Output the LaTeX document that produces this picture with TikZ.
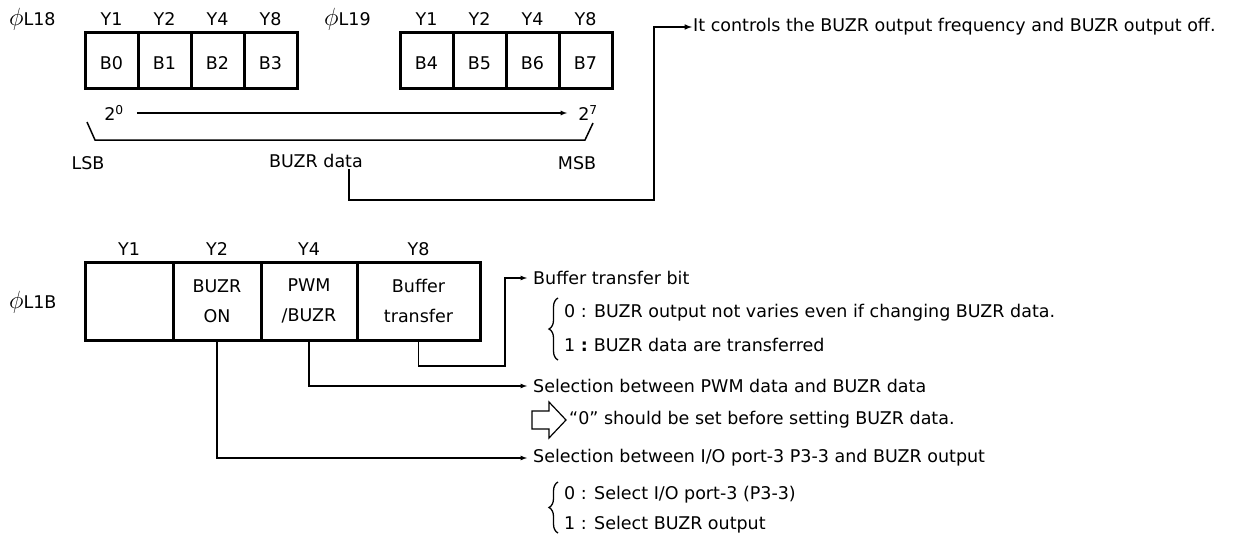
\documentclass[tikz,border=0pt]{standalone}
\usepackage{fontspec}
\setmainfont{DejaVu Sans}
\usetikzlibrary{arrows,positioning,decorations.pathreplacing}

\newcommand{\regphi}{{\fontsize{23}{23}\selectfont$\phi$}}

\begin{document}
\begin{tikzpicture}[x=1pt,y=-1pt,
    every node/.style={font=\fontsize{17.5}{21}\selectfont, inner sep=1pt},
    bitcell/.style={draw, line width=3pt, outer sep=0pt, minimum width=53pt, minimum height=55pt, text height=18pt, text depth=0pt},
    ctlcell/.style={draw, line width=3pt, outer sep=0pt, minimum height=78pt, align=center, font=\fontsize{17.5}{30}\selectfont},
    note/.style={anchor=west},
    link/.style={line width=1.2pt, -latex, shorten >=5pt},
    brace/.style={decorate, decoration={brace, amplitude=9pt}, line width=1.3pt}]
    \useasboundingbox (0,0) rectangle (1233,535);

    % Register names
    \node[note] (l18) at (8,19) {\regphi L18};
    \node[note] (l19) at (323,19) {\regphi L19};
    \node[note] (l1b) at (8,302) {\regphi L1B};

    % BUZR data registers
    \node[bitcell] (b0) at (111.5,60.5) {B0};
    \node[bitcell, right=0pt of b0] (b1) {B1};
    \node[bitcell, right=0pt of b1] (b2) {B2};
    \node[bitcell, right=0pt of b2] (b3) {B3};
    \node[bitcell] (b4) at (426.5,60.5) {B4};
    \node[bitcell, right=0pt of b4] (b5) {B5};
    \node[bitcell, right=0pt of b5] (b6) {B6};
    \node[bitcell, right=0pt of b6] (b7) {B7};
    \node[above=6pt of b0] {Y1};
    \node[above=6pt of b1] {Y2};
    \node[above=6pt of b2] {Y4};
    \node[above=6pt of b3] {Y8};
    \node[above=6pt of b4] {Y1};
    \node[above=6pt of b5] {Y2};
    \node[above=6pt of b6] {Y4};
    \node[above=6pt of b7] {Y8};

    % Bit weights and data span
    \node (p0) at (114,113) {2\textsuperscript{0}};
    \node (p7) at (588,113) {2\textsuperscript{7}};
    \draw[line width=1.2pt, -latex] (p0.east) ++(12pt,0) -- ([xshift=-10pt]p7.west);
    \draw[line width=1.5pt] (87,122) -- (95,140) -- (585,140) -- (593,123);
    \node (lsb) at (88,163) {LSB};
    \node (bdata) at (316,161) {BUZR data};
    \node (msb) at (577,163) {MSB};

    \node[note] (ctrl) at (692,27) {It controls the BUZR output frequency and BUZR output off.};
    \coordinate (tc) at (654,200);
    \draw[line width=1.5pt, -latex] ([xshift=33pt]bdata.south) |- (tc) |- (ctrl.west);

    % BUZR control register
    \node[ctlcell, minimum width=88pt] (c1) at (129,301) {};
    \node[ctlcell, minimum width=88pt, right=0pt of c1] (c2) {BUZR\\ON};
    \node[ctlcell, minimum width=96pt, right=0pt of c2] (c4) {PWM\\/BUZR};
    \node[ctlcell, minimum width=123pt, right=0pt of c4] (c8) {Buffer\\transfer};
    \node[above=5pt of c1] {Y1};
    \node[above=5pt of c2] {Y2};
    \node[above=5pt of c4] {Y4};
    \node[above=5pt of c8] {Y8};

    % Bit descriptions
    \node[note] (buf) at (532,278) {Buffer transfer bit};
    \node[note] (buf0) at (563,313) {0 : BUZR output not varies even if changing BUZR data.};
    \node[note] (buf1) at (563,345) {1 \textbf{:}\hspace{6pt}BUZR data are transferred};
    \draw[brace] (558,360) -- (558,298);

    \node[note] (pwm) at (532,386) {Selection between PWM data and BUZR data};
    \draw[line width=1.2pt] (532,411) -- (549,411) -- (549,402) -- (566,420) -- (549,438) -- (549,429) -- (532,429) -- cycle;
    \node[note] (hint) at (568,420) {“0” should be set before setting BUZR data.};

    \node[note] (io) at (532,458) {Selection between I/O port-3 P3-3 and BUZR output};
    \node[note] (io0) at (563,495) {0 : Select I/O port-3 (P3-3)};
    \node[note] (io1) at (563,525) {1 : Select BUZR output};
    \draw[brace] (558,533) -- (558,482);

    % Connectors
    \coordinate (bk) at (505,366);
    \draw[link] (c8.south) |- (bk) |- (buf.west);
    \draw[link] (c4.south) |- (pwm.west);
    \draw[link] (c2.south) |- (io.west);
\end{tikzpicture}
\end{document}
